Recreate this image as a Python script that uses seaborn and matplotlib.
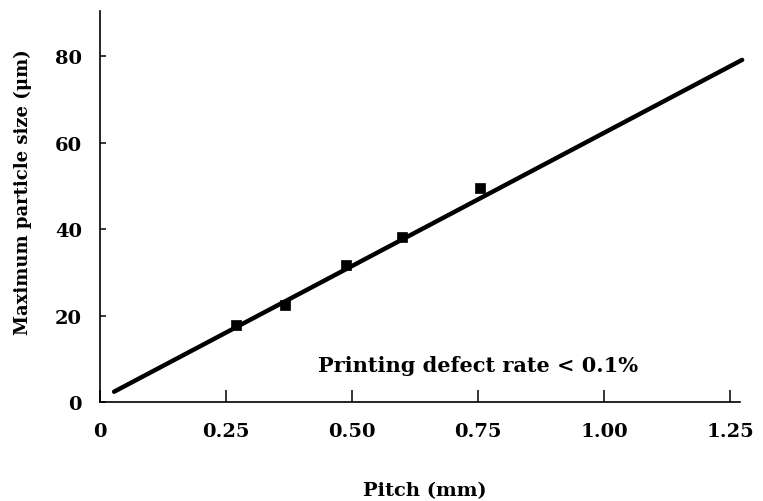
import matplotlib
matplotlib.use("Agg")
import matplotlib.pyplot as plt
import seaborn as sns
import pandas as pd

# Data
pitch_mm = [0.269, 0.368, 0.488, 0.600, 0.754]
max_particle_um = [17.9, 22.5, 31.8, 38.2, 49.5]
fit_pitch = [0.028, 1.274]
fit_size = [2.4, 79.1]
x_ticks = [0, 0.25, 0.50, 0.75, 1.00, 1.25]
x_tick_labels = ["0", "0.25", "0.50", "0.75", "1.00", "1.25"]
y_ticks = [0, 20, 40, 60, 80]
y_tick_labels = ["0", "20", "40", "60", "80"]

sns.set_theme(style="white")
plt.rcParams['font.family'] = ['DejaVu Serif', 'Liberation Serif']
plt.rcParams['font.weight'] = 'bold'
plt.rcParams['text.color'] = 'black'
plt.rcParams['axes.labelcolor'] = 'black'
plt.rcParams['xtick.color'] = 'black'
plt.rcParams['ytick.color'] = 'black'

fig = plt.figure(figsize=(7.63, 5.02), dpi=100)
ax = fig.add_axes([0.131, 0.197, 0.839, 0.78])

pts = pd.DataFrame({"pitch": pitch_mm, "size": max_particle_um})
fit = pd.DataFrame({"pitch": fit_pitch, "size": fit_size})

sns.lineplot(data=fit, x="pitch", y="size", ax=ax, color="black", linewidth=3.2,
             solid_capstyle="round")
sns.scatterplot(data=pts, x="pitch", y="size", ax=ax, marker="s", s=55,
                color="black", edgecolor="black", linewidth=0.5, zorder=3)

ax.set_xlim(0, 1.27)
ax.set_ylim(0, 90.5)
ax.set_xticks(x_ticks)
ax.set_xticklabels(x_tick_labels)
ax.set_yticks(y_ticks)
ax.set_yticklabels(y_tick_labels)
for ln in ax.get_lines():
    ln.set_clip_on(False)

for side in ["top", "right"]:
    ax.spines[side].set_visible(False)
for side in ["left", "bottom"]:
    ax.spines[side].set_color("black")
    ax.spines[side].set_linewidth(1.2)

ax.tick_params(axis="x", which="major", bottom=True, direction="in", length=9,
               width=1.1, color="black", labelcolor="black", pad=14, labelsize=14)
ax.tick_params(axis="y", which="major", left=True, direction="in", length=4.5,
               width=1.1, color="black", labelcolor="black", pad=13, labelsize=14)
for lbl in ax.get_xticklabels() + ax.get_yticklabels():
    lbl.set_fontweight("bold")

ax.set_xlabel("Pitch (mm)", fontsize=14, fontweight="bold", color="black")
ax.set_ylabel("Maximum particle size (\u03bcm)", fontsize=13, fontweight="bold",
              color="black")
ax.xaxis.set_label_coords(0.508, -0.202)
ax.yaxis.set_label_coords(-0.106, 0.54)

ax.text(0.75, 8.5, "Printing defect rate < 0.1%", fontsize=15, fontweight="bold",
        ha="center", va="center", color="black")

fig.savefig("out.png", dpi=100, facecolor="white")
